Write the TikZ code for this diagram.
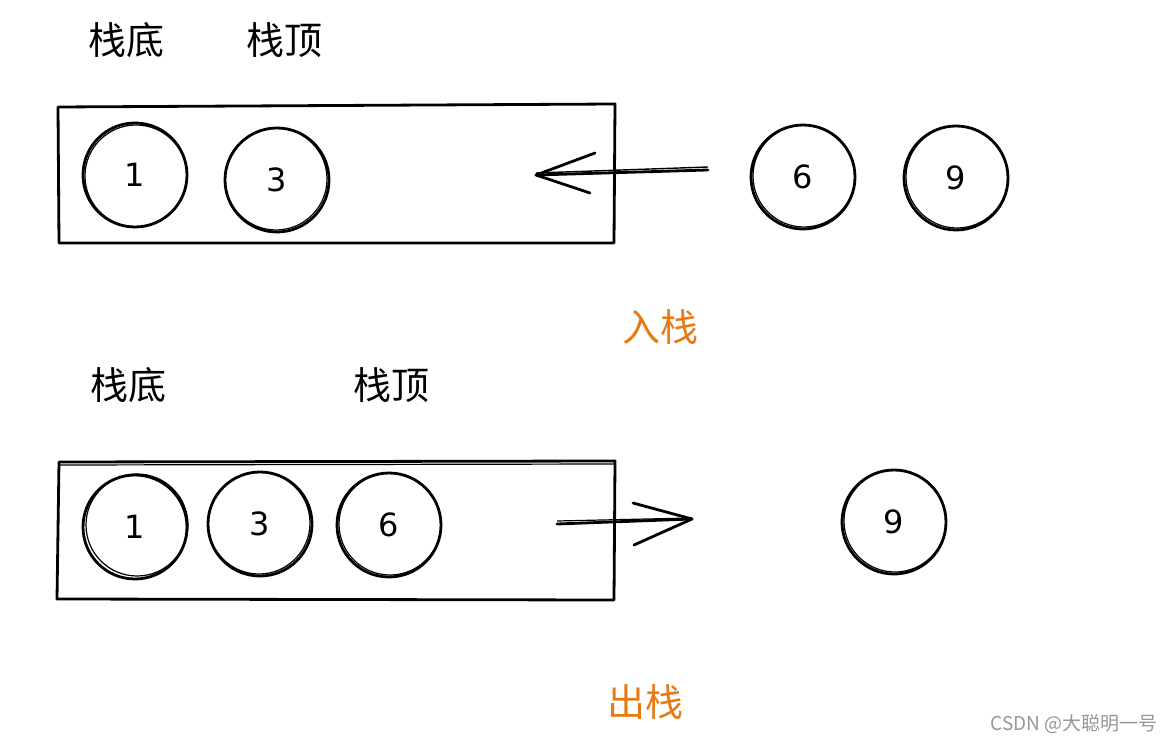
\documentclass[tikz,border=0pt]{standalone}
\usepackage{fontspec}
\newfontfamily\cjk{Noto Sans CJK SC}
\newfontfamily\hand{DejaVu Sans}
\definecolor{lblorange}{RGB}{232,122,20}
\definecolor{wmgray}{RGB}{150,150,150}
\begin{document}
\begin{tikzpicture}[x=1pt,y=-1pt,
  ink/.style={line width=2.8pt,line cap=round,line join=round},
  ball/.style={ink,draw,circle,minimum size=104pt,inner sep=0pt,font=\hand\fontsize{32}{32}\selectfont},
  ghost/.style={draw,circle,line width=1.2pt,minimum size=102pt,inner sep=0pt},
  lbl/.style={font=\cjk\fontsize{38}{38}\selectfont,inner sep=0pt},
  oplbl/.style={lbl,text=lblorange},
  box/.style={ink,draw}]
\useasboundingbox (0,0) rectangle (1175,743);
% ---------- push ----------
\node[lbl] (tb1) at (126,40) {栈底};
\node[lbl] (tt1) at (284,40) {栈顶};
\draw[box] (58,107) -- (615,104) -- (614,243) -- (59,243) -- cycle;
\node[ball] (a1) at (135,175) {1};
\node[ghost] at (136,176) {};
\node[ball] (a3) at (277,180) {3};
\node[ghost] at (276,179) {};
\node[ball] (a6) at (803,177) {6};
\node[ghost] at (804,176) {};
\node[ball] (a9) at (956,178) {9};
\node[ghost] at (957,177) {};
\coordinate (p1) at (708,170);
\coordinate (p2) at (536,175);
\coordinate (ph1) at (595,153);
\coordinate (ph2) at (590,193);
\draw[ink] (p1) -- (p2);
\draw[line width=1.4pt] ([yshift=3]p1) -- ([yshift=2]p2);
\draw[ink] (ph1) -- (p2) -- (ph2);
\node[oplbl] (push) at (660,327) {入栈};
% ---------- pop ----------
\node[lbl] (tb2) at (128,385) {栈底};
\node[lbl] (tt2) at (391,385) {栈顶};
\draw[box] (59,462) -- (615,461) -- (614,600) -- (57,599) -- cycle;
\draw[line width=1.2pt] (60,465) -- (614,464);
\node[ball] (b1) at (135,527) {1};
\node[ghost] at (137,525) {};
\node[ball] (b3) at (260,524) {3};
\node[ghost] at (259,523) {};
\node[ball] (b6) at (389,525) {6};
\node[ghost] at (390,524) {};
\node[ball] (b9) at (894,522) {9};
\node[ghost] at (895,521) {};
\coordinate (q1) at (557,524);
\coordinate (q2) at (692,519);
\coordinate (qh1) at (633,503);
\coordinate (qh2) at (634,545);
\draw[ink] (q1) -- (q2);
\draw[line width=1.2pt] ([yshift=3]q1) -- ([yshift=1]q2);
\draw[ink] (qh1) -- (q2) -- (qh2);
\node[oplbl] (pop) at (645,702) {出栈};
\node[font=\cjk\fontsize{19}{19}\selectfont,text=wmgray,inner sep=0pt] (wm) at (1074,724) {CSDN @大聪明一号};
\end{tikzpicture}
\end{document}
